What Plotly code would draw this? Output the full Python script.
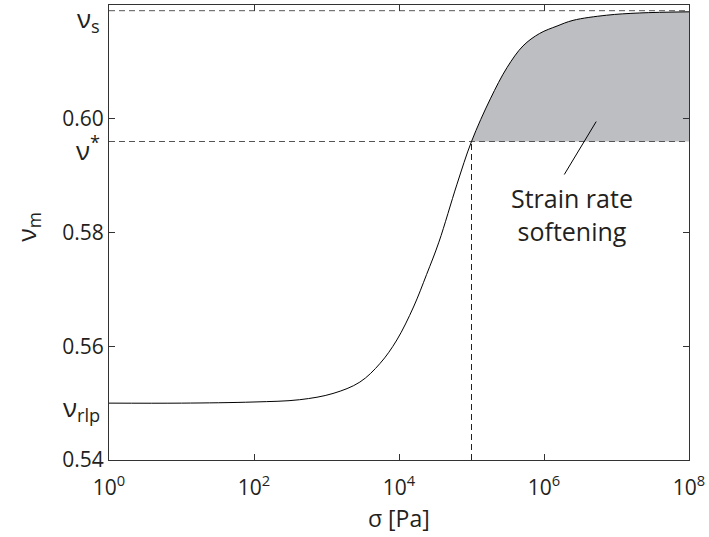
import plotly.graph_objects as go

# Data
log_sigma = [0.0, 1.0, 2.0, 2.63, 3.09, 3.46, 3.74, 3.97, 4.20, 4.38, 4.55, 4.80, 5.00, 5.26, 5.49, 5.71, 5.94, 6.18, 6.40, 6.86, 7.32, 8.0]
nu_m = [0.5500, 0.5500, 0.5502, 0.5506, 0.5517, 0.5537, 0.5570, 0.5611, 0.5669, 0.5726, 0.5783, 0.5885, 0.5960, 0.6035, 0.6090, 0.6128, 0.6150, 0.6163, 0.6173, 0.6182, 0.6186, 0.6188]
sigma = [10 ** v for v in log_sigma]

nu_s = 0.619
nu_star = 0.596
nu_rlp = 0.550
sigma_star = 1e5

x_tickvals = [1, 1e2, 1e4, 1e6, 1e8]
x_ticktext = ["10<sup>0</sup>", "10<sup>2</sup>", "10<sup>4</sup>", "10<sup>6</sup>", "10<sup>8</sup>"]
y_tickvals = [0.54, 0.56, 0.58, 0.60]
y_ticktext = ["0.54", "0.56", "0.58", "0.60"]

FONT = "Open Sans"
TXT = "#231f20"
DASH = "6px,4px"
DASHCOL = "#555555"

# shaded region: curve above sigma_star, filled down to nu_star
fx = [s for s in sigma if s >= sigma_star]
fy = [n for s, n in zip(sigma, nu_m) if s >= sigma_star]

fig = go.Figure()
fig.add_trace(go.Scatter(x=[fx[0], fx[-1]], y=[nu_star, nu_star], mode="lines",
                         line=dict(width=0), hoverinfo="skip"))
fig.add_trace(go.Scatter(x=fx, y=fy, fill="tonexty", fillcolor="#bdbec1", mode="lines",
                         line=dict(width=0, shape="spline", smoothing=1.0), hoverinfo="skip"))
fig.add_trace(go.Scatter(x=[1, 1e8], y=[nu_s, nu_s], mode="lines",
                         line=dict(color=DASHCOL, width=1, dash=DASH)))
fig.add_trace(go.Scatter(x=[1, 1e8], y=[nu_star, nu_star], mode="lines",
                         line=dict(color=DASHCOL, width=1, dash=DASH)))
fig.add_trace(go.Scatter(x=[sigma_star, sigma_star], y=[0.54, nu_star], mode="lines",
                         line=dict(color="#222222", width=1, dash=DASH)))
fig.add_trace(go.Scatter(x=sigma, y=nu_m, mode="lines",
                         line=dict(color="black", width=1, shape="spline", smoothing=1.0)))

# annotation pointer line
fig.add_trace(go.Scatter(x=[10 ** 6.28, 10 ** 6.72], y=[0.5902, 0.5995], mode="lines",
                         line=dict(color="black", width=1)))

fig.update_layout(
    width=709, height=537,
    margin=dict(l=109, r=20, t=5, b=77),
    plot_bgcolor="white", paper_bgcolor="white",
    showlegend=False,
    font=dict(family=FONT, size=21, color=TXT),
    xaxis=dict(type="log", range=[0, 8], tickvals=x_tickvals, ticktext=x_ticktext,
               ticks="inside", ticklen=6, tickcolor="#333", showline=True, linecolor="#333",
               linewidth=1, mirror="ticks", showgrid=False, zeroline=False,
               ticklabelstandoff=9, tickfont=dict(size=21)),
    yaxis=dict(range=[0.54, 0.62], tickvals=y_tickvals, ticktext=y_ticktext,
               ticks="inside", ticklen=6, tickcolor="#333", showline=True, linecolor="#333",
               linewidth=1, mirror="ticks", showgrid=False, zeroline=False,
               tickfont=dict(size=21)),
)

fig.add_annotation(text="σ [Pa]", xref="paper", yref="paper", x=0.5, y=-0.128,
                   showarrow=False, font=dict(size=23), xanchor="center", yanchor="middle")
fig.add_annotation(text="ν<sub>m</sub>", xref="paper", yref="paper", x=-0.142, y=0.512,
                   textangle=-90, showarrow=False, font=dict(size=25), xanchor="center", yanchor="middle")
fig.add_annotation(text="ν<sub>s</sub>", xref="paper", yref="y", x=0, y=nu_s, xanchor="right",
                   yanchor="middle", xshift=-7, yshift=-8, showarrow=False, font=dict(size=26))
fig.add_annotation(text="ν<sup>*</sup>", xref="paper", yref="y", x=0, y=nu_star, xanchor="right",
                   yanchor="middle", xshift=-7, yshift=-7, showarrow=False, font=dict(size=26))
fig.add_annotation(text="ν<sub>rlp</sub>", xref="paper", yref="y", x=0, y=nu_rlp, xanchor="right",
                   yanchor="middle", xshift=-7, yshift=-5, showarrow=False, font=dict(size=26))
fig.add_annotation(text="Strain rate<br>softening", xref="x", yref="y", x=6.38, y=0.5832,
                   showarrow=False, font=dict(size=25), align="center")

fig.write_html("out.html")
